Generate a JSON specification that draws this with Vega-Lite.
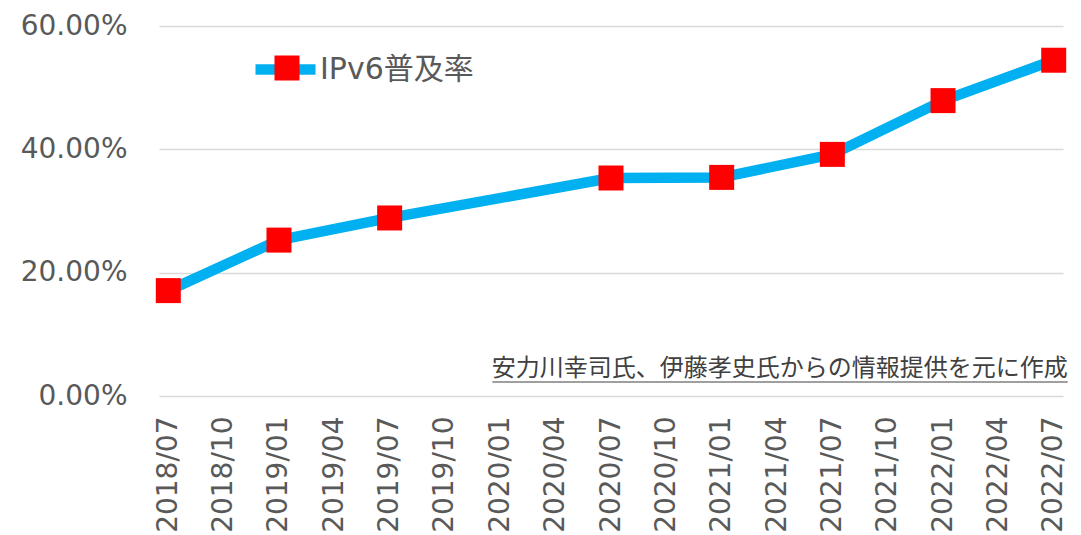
{
  "$schema": "https://vega.github.io/schema/vega-lite/v6.json",
  "autosize": {"type": "none"},
  "padding": {"left": 159, "top": 26, "right": 18, "bottom": 139},
  "width": 904,
  "height": 370,
  "background": "white",
  "config": {
    "view": {"stroke": null},
    "font": "DejaVu Sans"
  },
  "datasets": {
    "ipv6": [
      {"month": "2018/07", "rate": 0.1709, "series": "IPv6普及率"},
      {"month": "2019/01", "rate": 0.2528, "series": "IPv6普及率"},
      {"month": "2019/07", "rate": 0.2887, "series": "IPv6普及率"},
      {"month": "2020/07", "rate": 0.3535, "series": "IPv6普及率"},
      {"month": "2021/01", "rate": 0.3545, "series": "IPv6普及率"},
      {"month": "2021/07", "rate": 0.3918, "series": "IPv6普及率"},
      {"month": "2022/01", "rate": 0.479, "series": "IPv6普及率"},
      {"month": "2022/07", "rate": 0.5445, "series": "IPv6普及率"}
    ],
    "note": [
      {"month": "2022/07", "start": "2020/01", "rate": 0, "text": "安力川幸司氏、伊藤孝史氏からの情報提供を元に作成"}
    ]
  },
  "encoding": {
    "x": {
      "field": "month",
      "type": "ordinal",
      "scale": {
        "type": "point",
        "padding": 0.168,
        "domain": ["2018/07", "2018/10", "2019/01", "2019/04", "2019/07", "2019/10", "2020/01", "2020/04", "2020/07", "2020/10", "2021/01", "2021/04", "2021/07", "2021/10", "2022/01", "2022/04", "2022/07"]
      },
      "axis": {
        "title": null,
        "labelAngle": -90,
        "labelAlign": "right",
        "labelBaseline": "middle",
        "labelPadding": 20,
        "labelFontSize": 28,
        "labelColor": "#595959",
        "labelFont": "DejaVu Sans",
        "domain": false,
        "ticks": false,
        "grid": false,
        "labelOverlap": false
      }
    },
    "y": {
      "field": "rate",
      "type": "quantitative",
      "scale": {"domain": [0, 0.6], "nice": false, "zero": true},
      "axis": {
        "title": null,
        "values": [0, 0.2, 0.4, 0.6],
        "format": ".2%",
        "labelFontSize": 28,
        "labelColor": "#595959",
        "labelFont": "DejaVu Sans",
        "labelPadding": 32,
        "domain": false,
        "ticks": false,
        "grid": true,
        "gridColor": "#D9D9D9",
        "gridWidth": 1.5
      }
    }
  },
  "layer": [
    {
      "data": {"name": "ipv6"},
      "mark": {"type": "line", "strokeWidth": 10.5, "strokeCap": "round", "strokeJoin": "round"},
      "encoding": {
        "color": {
          "field": "series",
          "type": "nominal",
          "scale": {"range": ["#00B0F0"]},
          "legend": {
            "title": null,
            "orient": "none",
            "legendX": 91,
            "legendY": 8,
            "symbolType": "stroke",
            "symbolSize": 3600,
            "symbolStrokeWidth": 10.5,
            "symbolStrokeColor": "#00B0F0",
            "labelFontSize": 30,
            "labelColor": "#595959",
            "labelFont": "DejaVu Sans, Noto Sans CJK JP",
            "labelOffset": -1,
            "zindex": 1
          }
        }
      }
    },
    {
      "data": {"name": "ipv6"},
      "mark": {"type": "point", "shape": "square", "filled": true, "size": 625, "opacity": 1},
      "encoding": {
        "fill": {
          "field": "series",
          "type": "nominal",
          "scale": {"range": ["#FF0000"]},
          "legend": {
            "title": null,
            "orient": "none",
            "legendX": 114,
            "legendY": 28,
            "symbolType": "square",
            "symbolSize": 625,
            "symbolFillColor": "#FF0000",
            "symbolStrokeWidth": 0,
            "symbolOpacity": 1,
            "labelExpr": "''",
            "labelFontSize": 28,
            "zindex": 2
          }
        }
      }
    },
    {
      "data": {"name": "note"},
      "mark": {"type": "text", "align": "right", "baseline": "bottom", "dx": 14, "dy": -15, "fontSize": 24, "font": "Noto Sans CJK JP", "color": "#404040"},
      "encoding": {
        "text": {"field": "text"}
      }
    },
    {
      "data": {"name": "note"},
      "mark": {"type": "rule", "color": "#404040", "strokeWidth": 1.2, "yOffset": -14, "xOffset": -8, "x2Offset": 14},
      "encoding": {
        "x": {"field": "start", "type": "ordinal"},
        "x2": {"field": "month"}
      }
    }
  ]
}
